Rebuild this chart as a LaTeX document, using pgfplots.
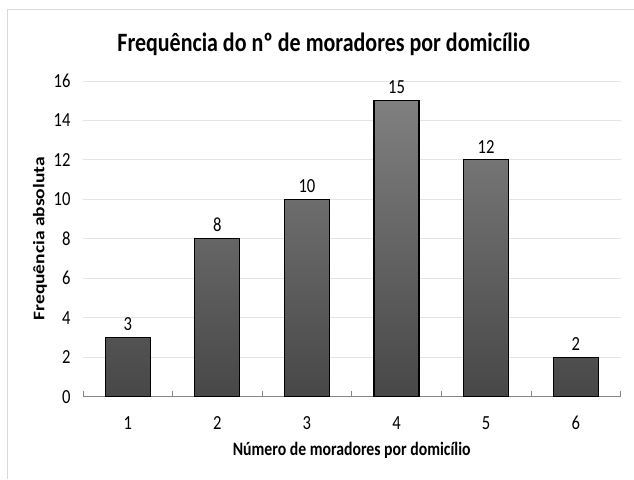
\documentclass[border=0pt]{standalone}
\usepackage{fontspec}
\setmainfont{Carlito}[FakeStretch=0.83]
\newfontfamily\plainfont{Carlito}
\usepackage{graphicx}
\usepackage{pgfplots}
\pgfplotsset{compat=1.18}
\definecolor{gridc}{HTML}{E3E3E3}
\definecolor{axc}{HTML}{868686}
\definecolor{framec}{HTML}{D9D9D9}
\begin{document}
\begin{tikzpicture}
\begin{axis}[
  name=ax,
  scale only axis,
  width=538bp, height=316bp,
  xmin=0.5, xmax=6.5, ymin=0, ymax=16,
  ytick={0,2,...,16},
  xtick={1,...,6},
  minor xtick={0.5,1.5,...,6.5},
  axis y line*=left,
  axis x line*=bottom,
  y axis line style={draw=none},
  x axis line style={draw=axc, line width=0.8pt},
  ymajorgrids,
  grid style={draw=gridc, line width=0.8pt},
  major x tick style={draw=none},
  minor x tick style={draw=axc, line width=0.8pt},
  minor tick length=6bp,
  major tick length=0pt,
  ytick style={draw=none},
  tick label style={font=\fontsize{20bp}{21bp}\selectfont},
  /pgf/number format/assume math mode=true,
  yticklabel style={xshift=-9bp},
  xticklabel style={anchor=center, yshift=-26bp},
  xlabel={\bfseries Número de moradores por domicílio},
  xlabel style={font=\fontsize{19bp}{20bp}\selectfont, at={(axis description cs:0.5,0)}, anchor=center, yshift=-54bp},
  clip=false,
  nodes near coords,
  nodes near coords style={font=\fontsize{20bp}{21bp}\selectfont, black, yshift=3bp},
  enlargelimits=false,
]
\addplot[ybar, bar width=45bp, draw=black, line width=1.1pt, top color=black!50, bottom color=black!72]
  coordinates {(1,3) (2,8) (3,10) (4,15) (5,12) (6,2)};
\end{axis}
\draw[framec, line width=1pt] ([xshift=-75bp,yshift=-82bp]ax.south west) -- ([xshift=-75bp,yshift=71bp]ax.north west) -- ([xshift=13bp,yshift=71bp]ax.north east);
\node[inner sep=0pt] at ([xshift=-43bp]ax.west) {\rotatebox{90}{\scalebox{1}[0.83]{\plainfont\fontsize{19.5bp}{20bp}\selectfont\bfseries Frequência absoluta}}};
\node[font=\fontsize{26.5bp}{28bp}\selectfont\bfseries] at ([xshift=-28bp,yshift=37bp]ax.north) {Frequência do nº de moradores por domicílio};
\path[use as bounding box] ([xshift=-83bp,yshift=-82bp]ax.south west) rectangle ([xshift=13bp,yshift=81bp]ax.north east);
\end{tikzpicture}
\end{document}
